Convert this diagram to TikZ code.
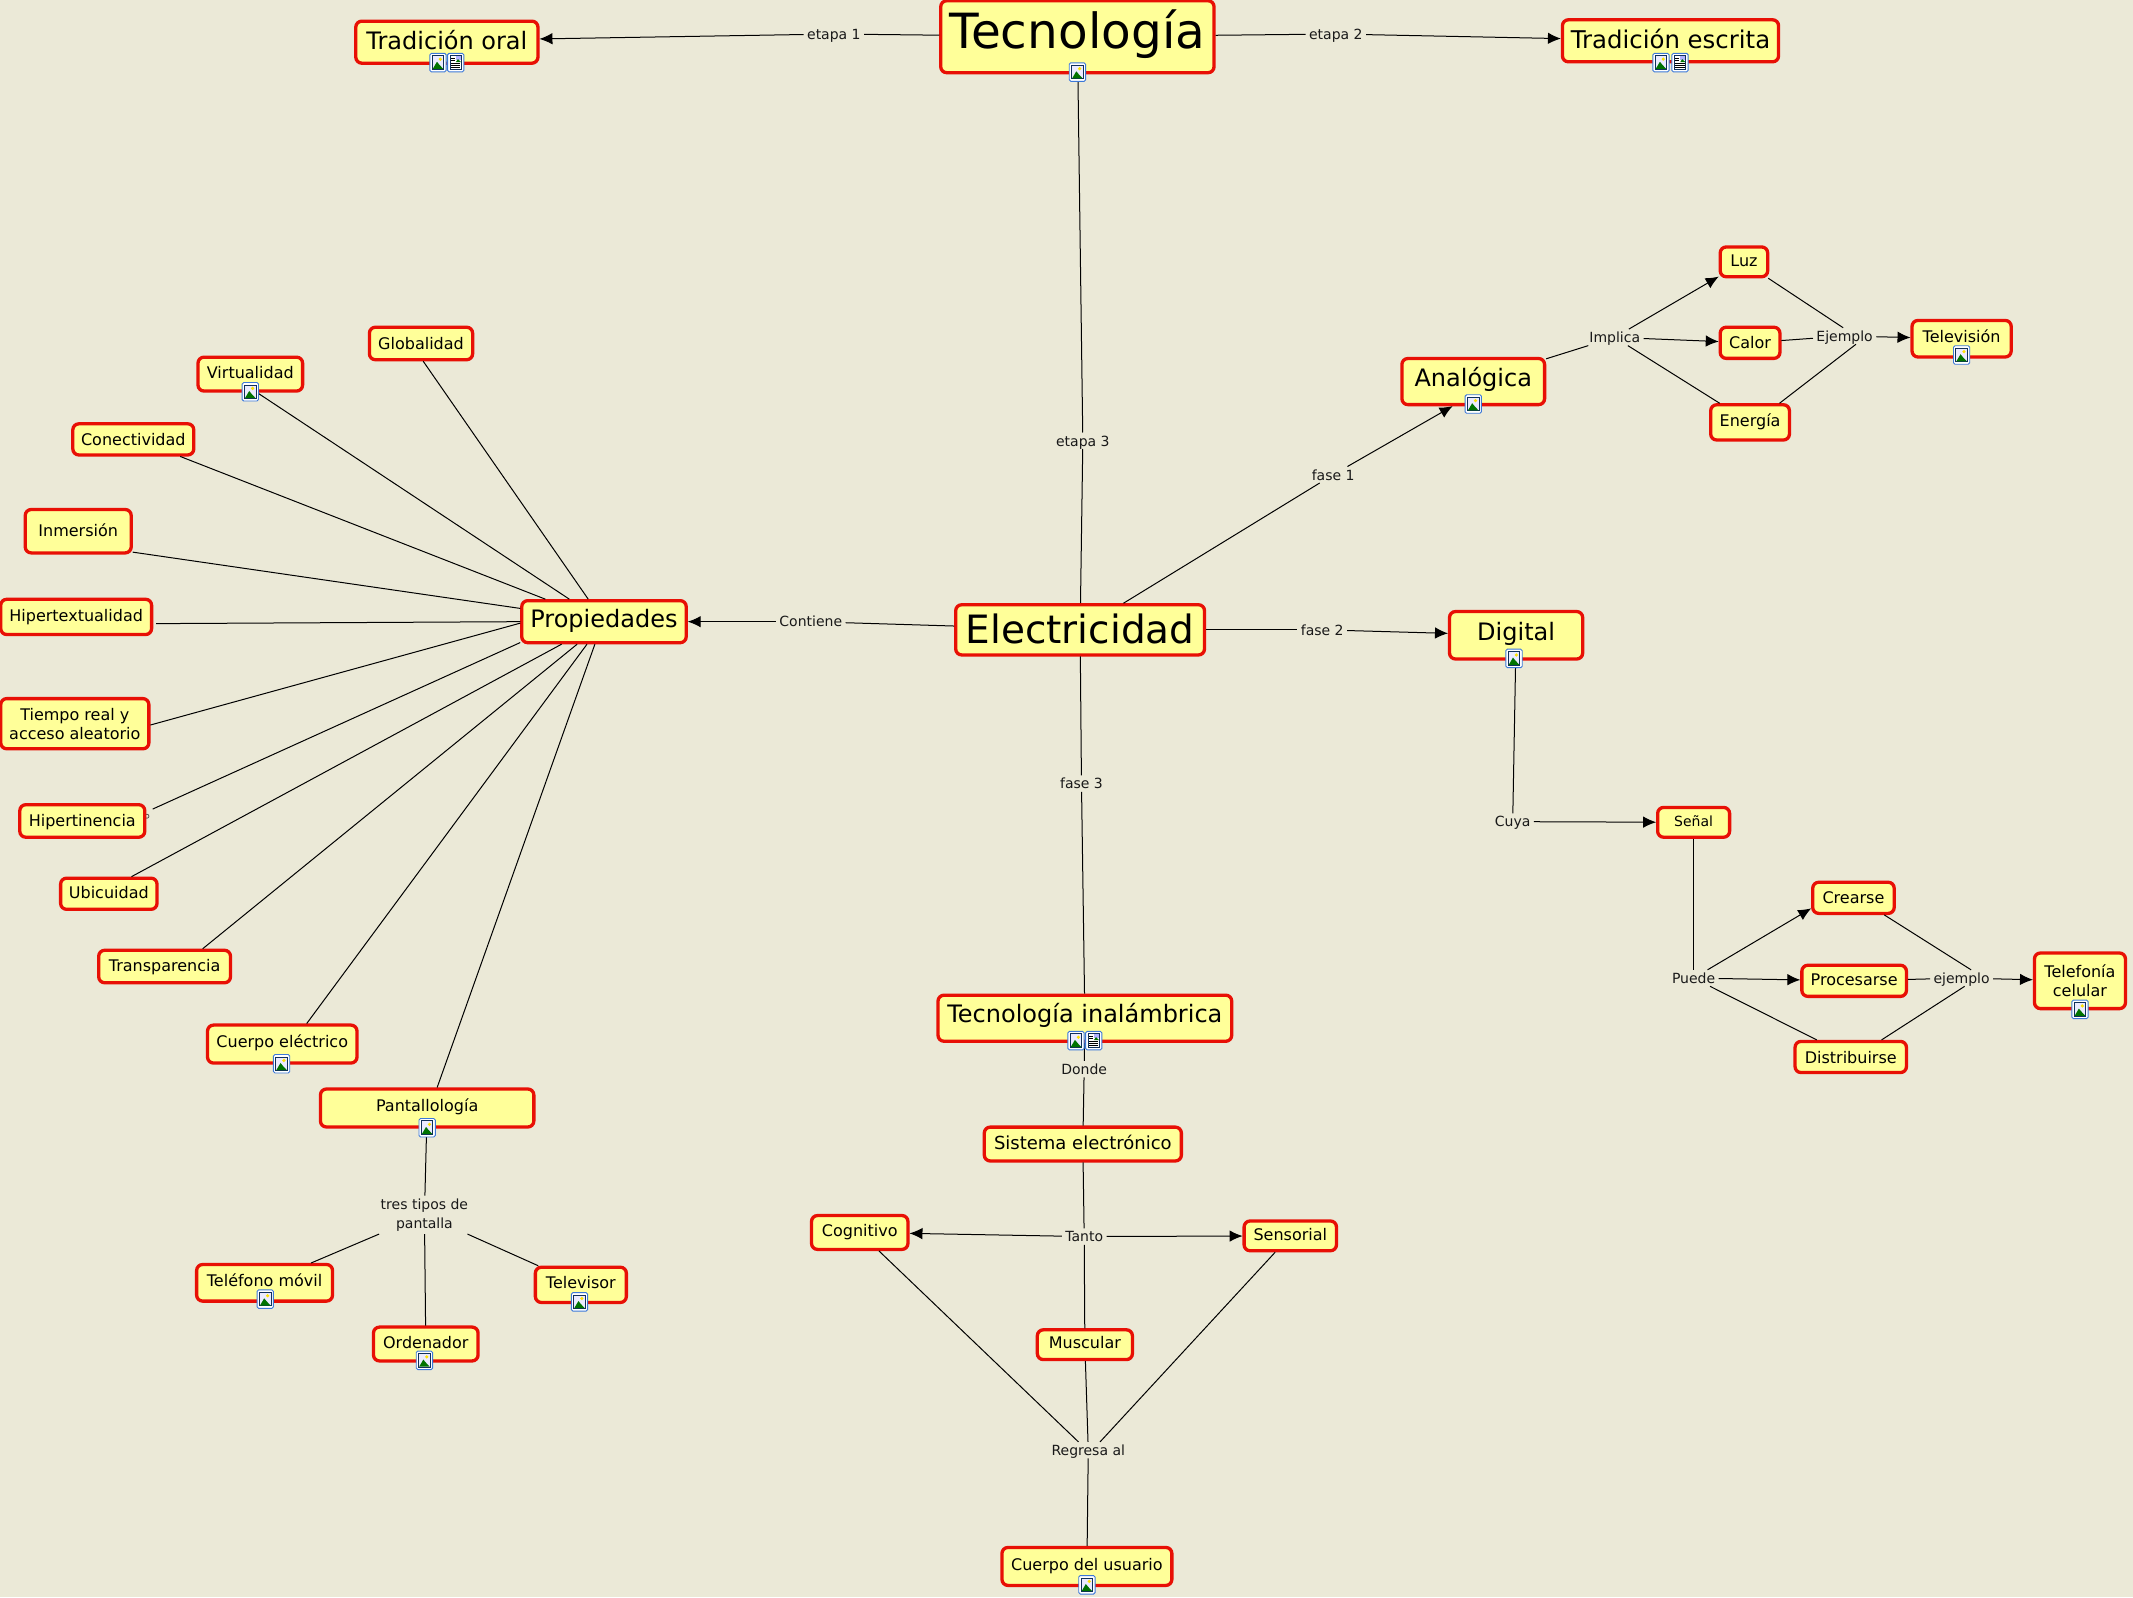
\documentclass[tikz,border=0pt]{standalone}
\usepackage{fontspec}
\setmainfont{DejaVu Sans}
\usetikzlibrary{arrows.meta}
\definecolor{bgc}{HTML}{EBE9D7}
\definecolor{boxfill}{HTML}{FFFF99}
\definecolor{boxline}{HTML}{E81005}
\definecolor{iconblue}{HTML}{3C78D8}
\definecolor{iconnavy}{HTML}{10305A}
\tikzset{
  concept/.style={draw=boxline,fill=boxfill,line width=3.3pt,rounded corners=6pt,inner sep=0pt,outer sep=1.5pt,align=center,text=black},
  linklab/.style={inner xsep=3.5pt,inner ysep=1.5pt,outer sep=0pt,align=center,text=black!90,font=\fontsize{14}{19}\selectfont,text height=12pt,text depth=1.5pt},
  linklabtwo/.style={inner xsep=6pt,inner ysep=3pt,outer sep=0pt,align=center,text=black!90,font=\fontsize{14}{19}\selectfont},
  conn/.style={draw=black,line width=1pt},
  arr/.style={conn,-{Latex[length=13pt,width=11.5pt]}},
  imgicon/.pic={
    \draw[iconblue,fill=white,line width=.9pt,rounded corners=1.5pt] (-6,-6.8) rectangle (6,6.8);
    \draw[iconnavy,fill=blue!8,line width=.9pt] (-4.2,-5) rectangle (4.2,5);
    \fill[green!45!black] (-3.9,4.7) -- (-.8,-.6) -- (1,1.6) -- (3.9,4.7) -- cycle;
    \fill[yellow!85!orange] (1.7,-2.5) circle (1.3);
  },
  docicon/.pic={
    \draw[iconblue,fill=white,line width=.9pt,rounded corners=1.5pt] (-6,-6.8) rectangle (6,6.8);
    \draw[iconnavy,fill=white,line width=.9pt] (-4.2,-5) rectangle (4.2,5);
    \fill[blue!30] (.2,-4.6) rectangle (3.9,-2.2);
    \fill[green!45!black] (.2,-.4) -- (1.6,-2.6) -- (3.9,-.4) -- cycle;
    \foreach \ly in {-3.4,-1.6} \draw[black,line width=.8pt] (-3.4,\ly) -- (-.4,\ly);
    \foreach \ly in {.6,2.1,3.6} \draw[black,line width=.8pt] (-3.4,\ly) -- (3.4,\ly);
  },
}
% [lowering of the text in pt]{name}{x0}{y0}{x1}{y1}{font size}{text}
\newcommand{\cbox}[8][0]{%
  \pgfmathsetmacro{\bw}{(#5-#3)*1.3603-1.5}%
  \pgfmathsetmacro{\bh}{(#6-#4)*1.3603-1.5}%
  \pgfmathsetmacro{\bx}{(#3+#5)/2}%
  \pgfmathsetmacro{\by}{(#4+#6)/2}%
  \pgfmathsetmacro{\sh}{.76*#7+max(0,2*#1)}%
  \pgfmathsetmacro{\sd}{.24*#7+max(0,-2*#1)}%
  \pgfmathsetmacro{\st}{\sh+\sd}%
  \node[concept,minimum width=\bw pt,minimum height=\bh pt,font=\fontsize{#7}{19}\selectfont] (#2) at (\bx,\by) {\rule[-\sd pt]{0pt}{\st pt}#8};%
}
\begin{document}
\begin{tikzpicture}[x=1.3603pt,y=-1.3603pt]
\fill[bgc] (0,0) rectangle (1568,1174);
\useasboundingbox (0,0) rectangle (1568,1174);

% small mark beside Hipertinencia
\draw[black!70,line width=.7pt] (108,600) circle (1.5);

% concepts
\cbox[-1.4]{tec}{691}{0}{893}{54}{48.5}{Tecnología}
\cbox[1.2]{oral}{261}{15}{396}{47}{24}{Tradición oral}
\cbox[1.2]{escr}{1148}{14}{1308}{46}{24.4}{Tradición escrita}
\cbox[4]{elec}{702}{444}{886}{482}{39}{Electricidad}
\cbox{prop}{383}{441}{505}{473}{24}{Propiedades}
\cbox[-1.4]{ana}{1030}{263}{1136}{298}{24}{Analógica}
\cbox[-1.4]{dig}{1065}{449}{1164}{485}{24}{Digital}
\cbox[.7]{luz}{1264}{181}{1300}{204}{16}{Luz}
\cbox[1.2]{cal}{1264}{240}{1309}{264}{16}{Calor}
\cbox{ene}{1257}{297}{1316}{324}{16}{Energía}
\cbox[-1.2]{tele}{1405}{235}{1479}{263}{16}{Televisión}
\cbox{sen}{1218}{593}{1272}{616}{14}{Señal}
\cbox[1.2]{cre}{1332}{648}{1393}{672}{16}{Crearse}
\cbox[.7]{pro}{1324}{709}{1402}{733}{16}{Procesarse}
\cbox[2]{dis}{1319}{765}{1402}{789}{16}{Distribuirse}
\cbox{cel}{1495}{700}{1563}{742}{16}{Telefonía\\celular}
\cbox[1.8]{glo}{271}{240}{348}{265}{16}{Globalidad}
\cbox{vir}{145}{262}{223}{288}{16}{Virtualidad}
\cbox[2]{con}{53}{311}{143}{335}{16}{Conectividad}
\cbox[1.2]{inm}{18}{374}{97}{407}{16}{Inmersión}
\cbox{hit}{0}{440}{112}{467}{16}{Hipertextualidad}
\cbox{tie}{0}{513}{110}{551}{16}{Tiempo real y\\acceso aleatorio}
\cbox[1.2]{hip}{14}{591}{107}{616}{16}{Hipertinencia}
\cbox[.7]{ubi}{44}{645}{116}{669}{16}{Ubicuidad}
\cbox[1.2]{tra}{72}{698}{170}{723}{16}{Transparencia}
\cbox[-.7]{cue}{152}{753}{263}{782}{16}{Cuerpo eléctrico}
\cbox[-.7]{pan}{235}{800}{393}{829}{16}{Pantallología}
\cbox[-1.2]{mov}{144}{929}{245}{957}{16}{Teléfono móvil}
\cbox{ord}{274}{975}{352}{1001}{16}{Ordenador}
\cbox[-.7]{tvs}{393}{931}{461}{958}{16}{Televisor}
\cbox[-2.7]{ina}{689}{731}{906}{766}{24}{Tecnología inalámbrica}
\cbox[1.2]{sis}{723}{828}{869}{854}{18}{Sistema electrónico}
\cbox{cog}{596}{893}{668}{919}{16}{Cognitivo}
\cbox{sns}{914}{897}{983}{920}{16}{Sensorial}
\cbox{mus}{762}{977}{833}{1000}{16}{Muscular}
\cbox{usu}{736}{1137}{862}{1166}{16}{Cuerpo del usuario}

% linking phrases
\node[linklab] (e1) at (613,25) {etapa 1};
\node[linklab] (e2) at (982,25) {etapa 2};
\node[linklab] (e3) at (796,324) {etapa 3};
\node[linklab] (f1) at (980,349) {fase 1};
\node[linklab] (f2) at (972,463) {fase 2};
\node[linklab] (f3) at (795,576) {fase 3};
\node[linklab] (cont) at (596,457) {Contiene};
\node[linklab] (impl) at (1187,248) {Implica};
\node[linklab] (ejem) at (1356,247) {Ejemplo};
\node[linklab] (cuya) at (1112,604) {Cuya};
\node[linklab] (pued) at (1245,719) {Puede};
\node[linklab] (ejmp) at (1442,719) {ejemplo};
\node[linklabtwo] (tres) at (312,893) {tres tipos de\\pantalla};
\node[linklab] (dond) at (797,786) {Donde};
\node[linklab] (tant) at (797,909) {Tanto};
\node[linklab] (regr) at (800,1066) {Regresa al};

% connectors
\draw[conn] (tec) -- (e1);
\draw[arr] (e1) -- (oral.2);
\draw[conn] (tec) -- (e2);
\draw[arr] (e2) -- (escr);
\draw[conn] (tec) -- (e3);
\draw[conn] (e3) -- (elec);
\draw[conn] (elec) -- (f1);
\draw[arr] (f1) -- (ana.230.6);
\draw[conn] (elec) -- (f2);
\draw[arr] (f2) -- (dig);
\draw[conn] (elec) -- (f3);
\draw[conn] (f3) -- (ina);
\draw[conn] (elec) -- (cont);
\draw[arr] (cont) -- (prop);
\draw[conn] (ana) -- (impl);
\draw[arr] (impl) -- (luz);
\draw[arr] (impl) -- (cal);
\draw[conn] (impl) -- (ene);
\draw[conn] (luz.-34) -- (ejem.100);
\draw[conn] (cal) -- (ejem);
\draw[conn] (ene.33) -- (ejem.-36);
\draw[arr] (ejem) -- (tele);
\draw[conn] (dig) -- (cuya);
\draw[arr] (cuya) -- (sen);
\draw[conn] (sen) -- (pued);
\draw[arr] (pued) -- (cre.194.7);
\draw[arr] (pued) -- (pro);
\draw[conn] (pued) -- (dis);
\draw[conn] (cre.-29) -- (ejmp.41);
\draw[conn] (pro) -- (ejmp);
\draw[conn] (dis.29) -- (ejmp.-70);
\draw[arr] (ejmp) -- (cel);
\draw[conn] (glo.-83) -- (prop.125.7);
\draw[conn] (vir.-70) -- (prop.147.4);
\draw[conn] (con.-20.6) -- (prop.159);
\draw[conn] (inm.-21.6) -- (prop.171.1);
\draw[conn,shorten <=3pt] (hit.-5.3) -- (prop.180);
\draw[conn] (tie.-1) -- (prop.181);
\draw[conn,shorten <=7pt] (hip.8) -- (prop.194.4);
\draw[conn] (ubi.37) -- (prop.208.8);
\draw[conn] (tra.25.6) -- (prop.220.1);
\draw[conn] (cue.40) -- (prop.233.9);
\draw[conn] (pan.64.5) -- (prop.248.4);
\draw[conn] (pan) -- (tres);
\draw[conn] (tres) -- (mov);
\draw[conn] (tres) -- (ord);
\draw[conn] (tres) -- (tvs);
\draw[conn] (ina) -- (dond);
\draw[conn] (dond) -- (sis);
\draw[conn] (sis) -- (tant);
\draw[arr] (tant) -- (cog);
\draw[arr] (tant) -- (sns);
\draw[conn] (tant) -- (mus);
\draw[conn] (cog) -- (regr.140);
\draw[conn] (mus) -- (regr);
\draw[conn] (sns) -- (regr.35);
\draw[conn] (regr) -- (usu);

% resource icons
\foreach \ix/\iy in {322/46,792/53,1221/46,1083/297,1442/261,1113/484,1529/742,184/288,207/782,314/829,195/955,312/1000,426/957,791/765,799/1165}
  \pic at (\ix,\iy) {imgicon};
\foreach \ix/\iy in {335/46,1235/46,804/765}
  \pic at (\ix,\iy) {docicon};
\end{tikzpicture}
\end{document}
